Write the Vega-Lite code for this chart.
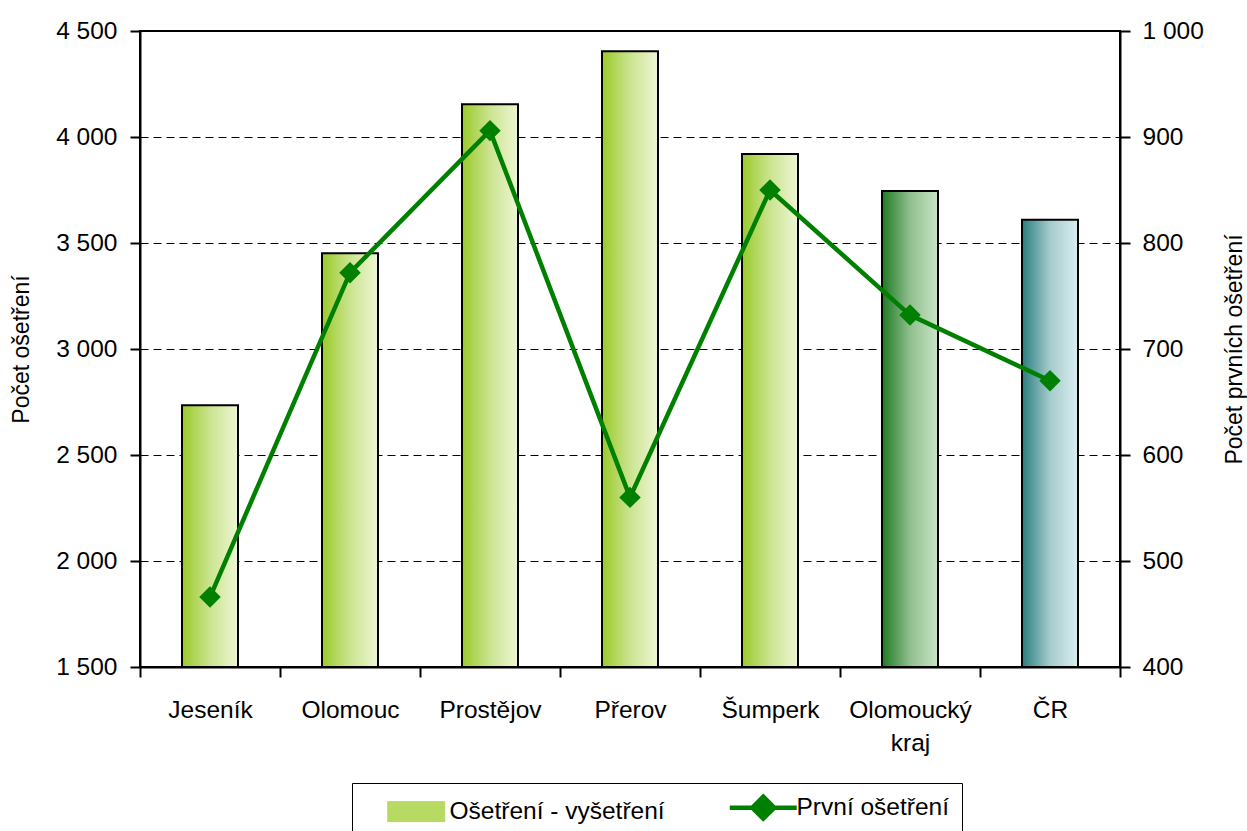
{
  "$schema": "https://vega.github.io/schema/vega-lite/v6.json",
  "width": 980,
  "height": 636,
  "autosize": {"type": "none"},
  "padding": {"left": 140, "top": 31, "right": 127, "bottom": 164},
  "background": "white",
  "config": {
    "font": "Liberation Sans",
    "view": {"stroke": "black", "strokeWidth": 2},
    "axis": {
      "labelFont": "Liberation Sans",
      "titleFont": "Liberation Sans",
      "labelFontSize": 24.5,
      "titleFontSize": 23,
      "labelColor": "black",
      "titleColor": "black",
      "titleFontWeight": "normal",
      "domainColor": "black",
      "domainWidth": 2,
      "tickColor": "black",
      "tickWidth": 2,
      "tickSize": 10
    }
  },
  "data": {
    "values": [
      {"kategorie": "Jeseník", "osetreni": 2735, "prvni": 466},
      {"kategorie": "Olomouc", "osetreni": 3452, "prvni": 772},
      {"kategorie": "Prostějov", "osetreni": 4155, "prvni": 906},
      {"kategorie": "Přerov", "osetreni": 4405, "prvni": 560},
      {"kategorie": "Šumperk", "osetreni": 3920, "prvni": 850},
      {"kategorie": "Olomoucký kraj", "osetreni": 3745, "prvni": 732},
      {"kategorie": "ČR", "osetreni": 3610, "prvni": 670}
    ]
  },
  "encoding": {
    "x": {
      "field": "kategorie",
      "type": "nominal",
      "sort": null,
      "scale": {"paddingInner": 0, "paddingOuter": 0},
      "axis": {
        "title": null,
        "labelAngle": 0,
        "tickBand": "extent",
        "labelPadding": 21,
        "labelBaseline": "top",
        "labelLineHeight": 33,
        "labelExpr": "datum.label == 'Olomoucký kraj' ? ['Olomoucký', 'kraj'] : datum.label"
      }
    }
  },
  "layer": [
    {
      "encoding": {
        "y": {
          "field": "osetreni",
          "type": "quantitative",
          "scale": {"domain": [1500, 4500], "zero": false, "nice": false},
          "axis": {
            "title": "Počet ošetření",
            "values": [1500, 2000, 2500, 3000, 3500, 4000, 4500],
            "labelExpr": "replace(format(datum.value, ','), ',', ' ')",
            "labelPadding": 13,
            "grid": true,
            "gridColor": "black",
            "gridWidth": 1,
            "gridDash": [8, 5],
            "titleX": -119,
            "titleBaseline": "middle",
            "titleAngle": 270
          }
        },
        "y2": {"datum": 1500}
      },
      "layer": [
        {
          "transform": [{"filter": "datum.kategorie != 'Olomoucký kraj' && datum.kategorie != 'ČR'"}],
          "mark": {
            "type": "bar",
            "width": {"band": 0.4},
            "stroke": "black",
            "strokeWidth": 2,
            "fill": {"gradient": "linear", "stops": [
              {"offset": 0, "color": "#9ACA2A"},
              {"offset": 0.5, "color": "#CBE48F"},
              {"offset": 1, "color": "#EEF6D4"}
            ]}
          }
        },
        {
          "transform": [{"filter": "datum.kategorie == 'Olomoucký kraj'"}],
          "mark": {
            "type": "bar",
            "width": {"band": 0.4},
            "stroke": "black",
            "strokeWidth": 2,
            "fill": {"gradient": "linear", "stops": [
              {"offset": 0, "color": "#1E7A22"},
              {"offset": 0.5, "color": "#90BF8E"},
              {"offset": 1, "color": "#C9E4C5"}
            ]}
          }
        },
        {
          "transform": [{"filter": "datum.kategorie == 'ČR'"}],
          "mark": {
            "type": "bar",
            "width": {"band": 0.4},
            "stroke": "black",
            "strokeWidth": 2,
            "fill": {"gradient": "linear", "stops": [
              {"offset": 0, "color": "#2A7E80"},
              {"offset": 0.5, "color": "#A5CBCC"},
              {"offset": 1, "color": "#DAEEF1"}
            ]}
          }
        }
      ]
    },
    {
      "mark": {
        "type": "line",
        "strokeWidth": 4.5,
        "point": {"shape": "diamond", "size": 460, "filled": true, "opacity": 1}
      },
      "encoding": {
        "y": {
          "field": "prvni",
          "type": "quantitative",
          "scale": {"domain": [400, 1000], "zero": false, "nice": false},
          "axis": {
            "orient": "right",
            "title": "Počet prvních ošetření",
            "values": [400, 500, 600, 700, 800, 900, 1000],
            "labelExpr": "replace(format(datum.value, ','), ',', ' ')",
            "labelPadding": 12,
            "grid": false,
            "titleX": 114,
            "titleBaseline": "middle",
            "titleAngle": 270
          }
        },
        "color": {
          "datum": "První ošetření",
          "type": "nominal",
          "scale": {"domain": ["Ošetření - vyšetření", "První ošetření"], "range": ["#B6DA62", "#008000"]},
          "legend": {
            "title": null,
            "orient": "none",
            "legendX": 212,
            "legendY": 752,
            "direction": "horizontal",
            "strokeColor": "black",
            "padding": 12,
            "labelFont": "Liberation Sans",
            "labelFontSize": 24.5,
            "labelColor": "black",
            "labelOffset": 21,
            "symbolOffset": 40,
            "columnPadding": 46,
            "symbolSize": 400,
            "labelLimit": 400,
            "encode": {
              "symbols": {
                "update": {
                  "shape": {"signal": "datum.value === 'První ošetření' ? 'M-3.35,0H3.35M0,-1.1L1.1,0L0,1.1L-1.1,0Z' : 'M-2.85,-1H2.85V1H-2.85Z'"},
                  "strokeWidth": {"signal": "datum.value === 'První ošetření' ? 4.5 : 1"},
                  "size": {"value": 400},
                  "opacity": {"value": 1}
                }
              }
            }
          }
        }
      }
    }
  ],
  "resolve": {"scale": {"y": "independent"}}
}
